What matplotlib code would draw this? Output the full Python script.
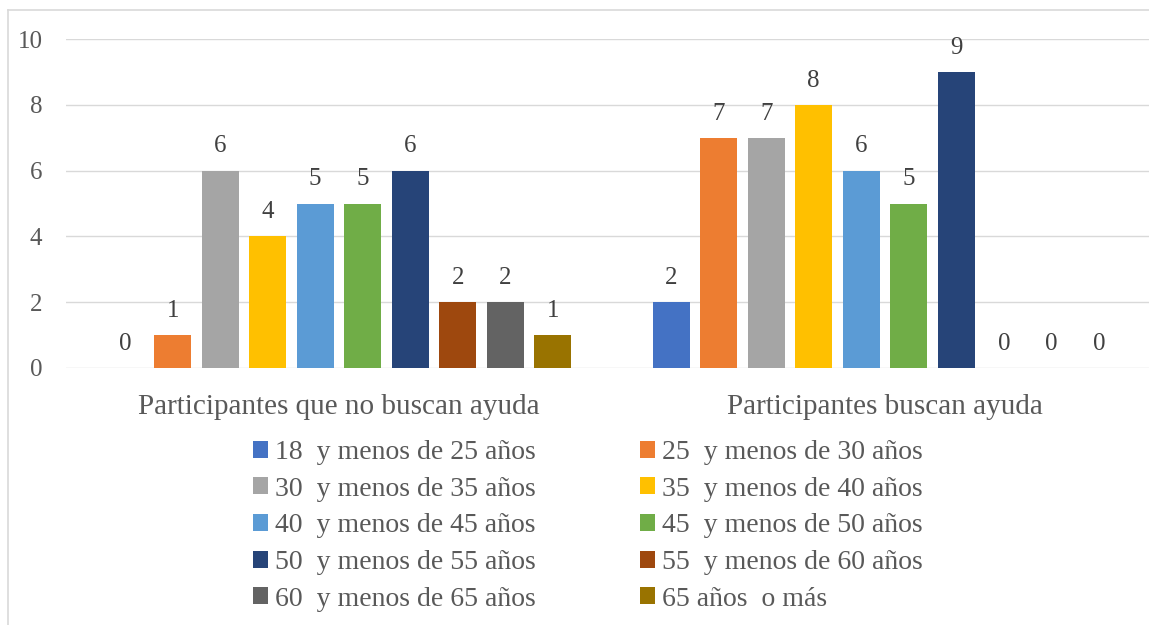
import matplotlib.pyplot as plt
from matplotlib.lines import Line2D
import numpy as np

plt.rcParams['font.family'] = ['Liberation Serif', 'DejaVu Serif']

categories = ["Participantes que no buscan ayuda", "Participantes buscan ayuda"]
series = ["18  y menos de 25 años", "25  y menos de 30 años", "30  y menos de 35 años",
          "35  y menos de 40 años", "40  y menos de 45 años", "45  y menos de 50 años",
          "50  y menos de 55 años", "55  y menos de 60 años", "60  y menos de 65 años",
          "65 años  o más"]
values = [
    [0, 2],
    [1, 7],
    [6, 7],
    [4, 8],
    [5, 6],
    [5, 5],
    [6, 9],
    [2, 0],
    [2, 0],
    [1, 0],
]
colors = ["#4472C4", "#ED7D31", "#A5A5A5", "#FFC000", "#5B9BD5",
          "#70AD47", "#264478", "#9E480E", "#636363", "#997300"]

fig = plt.figure(figsize=(11.49, 6.25), dpi=100)
ax = fig.add_axes([66 / 1149, 1 - 368 / 625, 1092 / 1149, 329 / 625])

x = np.arange(len(categories))
step = 0.087
width = 0.068
n = len(series)
handles = []
for i, (name, vals) in enumerate(zip(series, values)):
    pos = x + (i - (n - 1) / 2) * step
    bars = ax.bar(pos, vals, width, color=colors[i], label=name, zorder=3)
    handles.append(bars)
    for b, v in zip(bars, vals):
        ax.text(b.get_x() + b.get_width() / 2, v + 0.4, str(v), ha='center', va='bottom',
                fontsize=18, color='#404040')

ax.set_ylim(0, 10)
ax.set_yticks(range(0, 11, 2))
ax.set_xlim(-0.5, 1.5)
ax.set_xticks(x)
ax.set_xticklabels(categories, fontsize=21, color='#595959')
ax.tick_params(axis='y', labelsize=18, labelcolor='#595959', length=0, pad=17)
ax.tick_params(axis='x', length=0, pad=19)
ax.grid(axis='y', color='#D9D9D9', linewidth=1, zorder=0)
for s in ax.spines.values():
    s.set_visible(False)

# legend, two columns filled row by row
for col, xl in enumerate([253 / 1149, 640 / 1149]):
    idx = list(range(col, n, 2))
    leg = fig.legend([handles[i] for i in idx], [series[i] for i in idx],
                     loc='upper left', bbox_to_anchor=(xl, 1 - 440 / 625), ncol=1, frameon=False,
                     fontsize=20, handlelength=0.55, handleheight=0.55, handletextpad=0.25,
                     labelspacing=0.42, borderaxespad=0, borderpad=0)
    for t in leg.get_texts():
        t.set_color('#595959')

# chart border (cropped: only top and left edges visible)
fig.lines.append(Line2D([8 / 1149, 1], [1 - 10 / 625, 1 - 10 / 625], transform=fig.transFigure,
                        color='#D9D9D9', linewidth=1.2))
fig.lines.append(Line2D([8 / 1149, 8 / 1149], [0, 1 - 10 / 625], transform=fig.transFigure,
                        color='#D9D9D9', linewidth=1.2))

fig.savefig('out.png', dpi=100)
